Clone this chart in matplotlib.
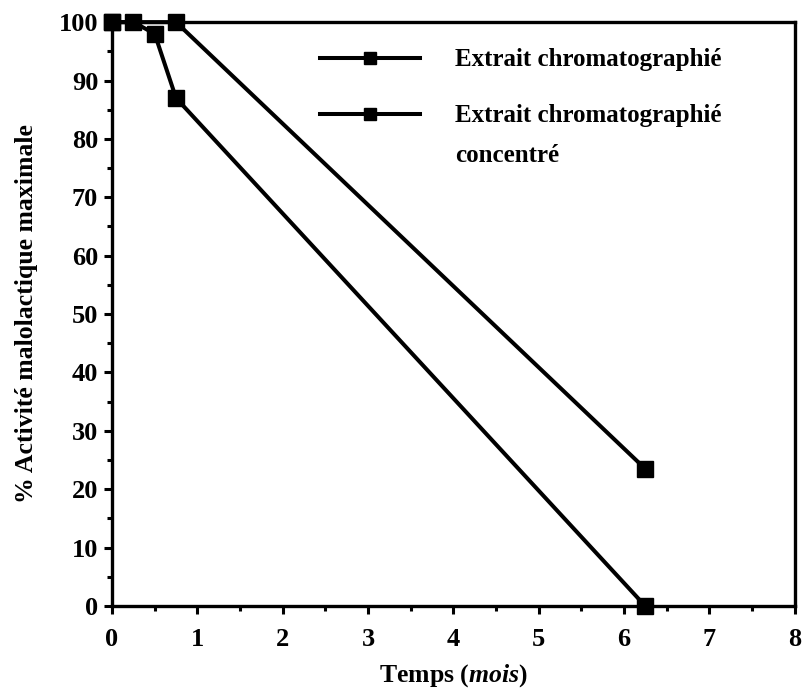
import matplotlib.pyplot as plt
from matplotlib.ticker import MultipleLocator

plt.rcParams['font.family'] = 'Liberation Serif'
plt.rcParams['font.weight'] = 'bold'
plt.rcParams['mathtext.fontset'] = 'custom'
plt.rcParams['mathtext.it'] = 'Liberation Serif:italic:bold'
plt.rcParams['mathtext.rm'] = 'Liberation Serif:bold'

# time in months, % of max malolactic activity
t_chromato = [0, 0.25, 0.5, 0.75, 6.25]
act_chromato = [100, 100, 98, 87, 0]
t_concentre = [0, 0.75, 6.25]
act_concentre = [100, 100, 23.5]

labels = ['Extrait chromatographié', 'Extrait chromatographié']

fig = plt.figure(figsize=(8.02, 6.91), dpi=100)
ax = fig.add_axes([0.1397, 0.123, 0.851, 0.845])

style = dict(color='black', lw=2.9, marker='s', markersize=11, clip_on=False, zorder=5)
ax.plot(t_chromato, act_chromato, label=labels[0], **style)
ax.plot(t_concentre, act_concentre, label=labels[1], **style)

ax.set_xlim(0, 8)
ax.set_ylim(0, 100)
ax.xaxis.set_major_locator(MultipleLocator(1))
ax.xaxis.set_minor_locator(MultipleLocator(0.5))
ax.yaxis.set_major_locator(MultipleLocator(10))
ax.yaxis.set_minor_locator(MultipleLocator(5))
ax.tick_params(which='both', direction='out', width=2.2, labelsize=19)
ax.tick_params(which='major', length=6, pad=4)
ax.tick_params(axis='x', which='major', pad=10)
ax.tick_params(which='minor', length=3.5)
for s in ax.spines.values():
    s.set_linewidth(2.4)

ax.set_xlabel(r'Temps ($\mathit{mois}$)', fontsize=18.5, fontweight='bold', labelpad=8)
ax.set_ylabel('% Activité malolactique maximale', fontsize=18.5, fontweight='bold', labelpad=15)

leg = ax.legend(loc='upper left', bbox_to_anchor=(0.305, 0.955), frameon=False,
                fontsize=18, handlelength=4.0, handletextpad=1.4,
                labelspacing=1.32, borderpad=0, borderaxespad=0,
                markerscale=0.85, numpoints=1)
# second line of the second legend label
ax.annotate('concentré', xy=(0, 0), xycoords=leg.get_texts()[1],
            xytext=(0, -12), textcoords='offset points',
            ha='left', va='top', fontsize=18, zorder=10)

fig.savefig('out.png', dpi=100)
